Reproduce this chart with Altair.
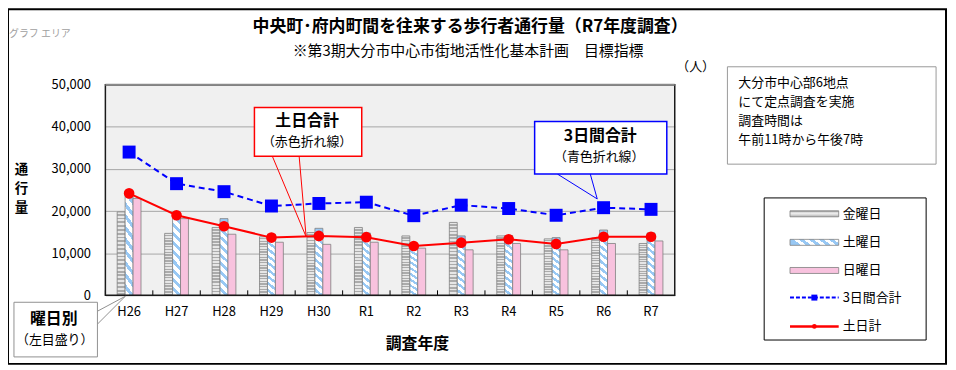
import altair as alt
import pandas as pd

FONT = "Noto Sans CJK JP"

# ---------------- data ----------------
years = ["H26", "H27", "H28", "H29", "H30", "R1", "R2", "R3", "R4", "R5", "R6", "R7"]
days = ["金曜日", "土曜日", "日曜日"]
fri = [19800, 14700, 16100, 13900, 14900, 16100, 14100, 17300, 14100, 13400, 13600, 12300]
sat = [24800, 19500, 18200, 14500, 15900, 14800, 12200, 14100, 14200, 13700, 15500, 14800]
sun = [23000, 18200, 14500, 12600, 12100, 12600, 11200, 10800, 12300, 10800, 12300, 12900]
three_day = [68000, 53000, 49200, 42400, 43600, 44200, 37800, 42800, 41200, 38000, 41600, 40800]
weekend = [48400, 38000, 32800, 27400, 28200, 27600, 23400, 25000, 26600, 24400, 27800, 27800]
legend_labels = ["金曜日", "土曜日", "日曜日", "3日間合計", "土日計"]
y_ticks = [0, 10000, 20000, 30000, 40000, 50000]

title_text = "中央町･府内町間を往来する歩行者通行量（R7年度調査）"
subtitle_text = "※第3期大分市中心市街地活性化基本計画　目標指標"
info_lines = ["大分市中心部6地点", "にて定点調査を実施", "調査時間は", "午前11時から午後7時"]
y_title = "通行量"

bars_df = pd.DataFrame({
    "year": years * 3,
    "day": [d for d in days for _ in years],
    "value": fri + sat + sun,
})
lines_df = pd.DataFrame({"year": years, "three_day": three_day, "weekend": weekend})
years_df = pd.DataFrame({"year": years})
one = pd.DataFrame({"k": [1]})

W, H = 573, 212


def stripes(c1, c2, n, x1, y1, x2, y2, frac=0.5):
    stops = []
    for i in range(n):
        a = round(i / n, 5)
        b = round((i + frac) / n, 5)
        c = round((i + 1) / n, 5)
        stops += [{"offset": a, "color": c1}, {"offset": b, "color": c1},
                  {"offset": b, "color": c2}, {"offset": c, "color": c2}]
    return {"gradient": "linear", "x1": x1, "y1": y1, "x2": x2, "y2": y2, "stops": stops}


gray_fill = stripes("#e6e6e6", "#ababab", 22, 0, 0, 0, 1)
blue_fill = stripes("#98c8f4", "#ffffff", 9, 0.1, 0, 0, 1, frac=0.45)
pink_fill = "#f8c2de"

x_scale = alt.Scale(domain=years, paddingInner=0, paddingOuter=0)
x_axis = alt.Axis(labelAngle=0, ticks=False, tickSize=0, domain=False, grid=False,
                  labelFont=FONT, labelFontSize=13, labelColor="black", labelPadding=10)
x_bar = alt.X("year:N", scale=x_scale, axis=x_axis, title=None)
x_mid = alt.X("year:N", scale=x_scale, axis=x_axis, title=None, bandPosition=0.5)
x_edge = alt.X("year:N", scale=x_scale, axis=x_axis, title=None, bandPosition=0)

y_bar = alt.Y("value:Q", scale=alt.Scale(domain=[0, 50000], nice=False),
              axis=alt.Axis(values=y_ticks, format=",.0f", ticks=False, domain=False, grid=True,
                            gridColor="#a6a6a6", gridWidth=1, labelFont=FONT, labelFontSize=13,
                            labelColor="black", labelPadding=15), title=None)
# two empty slots around the three day bars keep each group narrow and centred
offset_domain = ["_l"] + days + ["_r"]
xoff = alt.XOffset("day:N", scale=alt.Scale(domain=offset_domain, paddingInner=0, paddingOuter=0.49))


def bar_layer(day, fill):
    return alt.Chart(bars_df).transform_filter(alt.datum.day == day).mark_bar(
        fill=fill, stroke="#7f7f7f", strokeWidth=0.8).encode(x=x_bar, xOffset=xoff, y=y_bar)


bars = alt.layer(bar_layer(days[0], gray_fill), bar_layer(days[1], blue_fill), bar_layer(days[2], pink_fill))

y_right = alt.Scale(domain=[0, 100000], nice=False)
base_l = alt.Chart(lines_df)
lines = alt.layer(
    base_l.mark_line(color="#0000ff", strokeWidth=2, strokeDash=[6, 4]).encode(
        x=x_mid, y=alt.Y("three_day:Q", scale=y_right, axis=None)),
    base_l.mark_square(color="#0000ff", size=170, opacity=1).encode(
        x=x_mid, y=alt.Y("three_day:Q", scale=y_right, axis=None)),
    base_l.mark_line(color="#ff0000", strokeWidth=2).encode(
        x=x_mid, y=alt.Y("weekend:Q", scale=y_right, axis=None)),
    base_l.mark_circle(color="#ff0000", size=115, opacity=1).encode(
        x=x_mid, y=alt.Y("weekend:Q", scale=y_right, axis=None)),
)

ticks = alt.Chart(years_df).mark_rule(color="black", strokeWidth=1).encode(
    x=x_edge, y=alt.value(H), y2=alt.value(H - 5))


def txt(text, x, y, size=13, weight="normal", align="center", color="black"):
    return alt.Chart(one).mark_text(text=text, font=FONT, fontSize=size, fontWeight=weight,
                                    align=align, baseline="middle", color=color).encode(
        x=alt.value(x), y=alt.value(y))


def box(x0, y0, x1, y1, stroke, sw=1, fill="white", fop=1):
    return alt.Chart(one).mark_rect(fill=fill, fillOpacity=fop, stroke=stroke, strokeWidth=sw).encode(
        x=alt.value(x0), x2=alt.value(x1), y=alt.value(y0), y2=alt.value(y1))


def seg(x0, y0, x1, y1, color, sw=1, dash=None):
    kw = dict(color=color, strokeWidth=sw)
    if dash:
        kw["strokeDash"] = dash
    return alt.Chart(one).mark_rule(**kw).encode(
        x=alt.value(x0), y=alt.value(y0), x2=alt.value(x1), y2=alt.value(y1))


decor = []
# outer frame
decor.append(box(-98, -76, 846, 281, "black", sw=2, fop=0))
# plot border
decor.append(box(0, 0, W, H, "#1a1a1a", sw=1.5, fop=0))
decor.append(seg(0, 0, W, 0, "#8a8a8a", sw=2))
# titles
decor.append(txt("グラフ エリア", -97, -51, size=10, align="left", color="#a0a0a0"))
decor.append(txt(title_text, 367, -57.5, size=17, weight="bold"))
decor.append(txt(subtitle_text, 365, -34, size=15))
decor.append(txt("（人）", 594, -18, size=13))
for ch, yy in zip(y_title, [85.5, 105, 124.5]):
    decor.append(txt(ch, -84.5, yy, size=13.5, weight="bold"))
decor.append(txt("調査年度", 314, 261, size=16, weight="bold"))

# callout: 土日合計
decor.append(seg(168, 72, 202, 153, "#ff0000", sw=1))
decor.append(seg(195, 72, 202, 153, "#ff0000", sw=1))
decor.append(box(150, 23, 258, 72, "#ff0000", sw=1.5))
decor.append(txt("土日合計", 203, 37, size=16, weight="bold"))
decor.append(txt("（赤色折れ線）", 203, 58, size=13))

# callout: 3日間合計
decor.append(seg(455, 90, 495, 115, "#0000ff", sw=1))
decor.append(seg(488, 90, 495, 115, "#0000ff", sw=1))
decor.append(box(432, 37, 565, 90, "#0000ff", sw=1.5))
decor.append(txt("3日間合計", 498, 52, size=16, weight="bold"))
decor.append(txt("（青色折れ線）", 497, 73, size=13))

# callout: 曜日別
decor.append(seg(-8, 228, 20, 213, "#909090", sw=1))
decor.append(seg(-8, 241, 20, 213, "#909090", sw=1))
decor.append(box(-92, 219, -8, 274, "#909090", sw=1))
decor.append(txt("曜日別", -52, 235.5, size=16, weight="bold"))
decor.append(txt("（左目盛り）", -51, 256.5, size=13))

# info box
decor.append(box(626, -18, 836, 80, "#999999", sw=1))
for t, yy in zip(info_lines, [-1.5, 17.5, 37, 56]):
    decor.append(txt(t, 637, yy, size=13, align="left"))

# legend
decor.append(box(663, 114, 826, 257, "black", sw=1))
rows = [130, 158.7, 187, 214.3, 243.3]
sx0, sx1, lx = 689, 738, 742
gray_sw = {"gradient": "linear", "x1": 0, "y1": 0, "x2": 0, "y2": 1,
           "stops": [{"offset": 0, "color": "#8c8c8c"}, {"offset": 0.35, "color": "#f2f2f2"},
                     {"offset": 0.7, "color": "#d6d6d6"}, {"offset": 1, "color": "#a0a0a0"}]}
blue_sw = stripes("#98c8f4", "#ffffff", 5, 0, 0.15, 1, 0, frac=0.5)
decor.append(box(sx0, rows[0] - 3, sx1, rows[0] + 3, "#808080", sw=0.8, fill=gray_sw))
decor.append(box(sx0, rows[1] - 3, sx1, rows[1] + 3, "#808080", sw=0.8, fill=blue_sw))
decor.append(box(sx0, rows[2] - 3, sx1, rows[2] + 3, "#808080", sw=0.8, fill=pink_fill))
decor.append(seg(sx0, rows[3], sx1, rows[3], "#0000ff", sw=2, dash=[4, 2]))
decor.append(alt.Chart(one).mark_square(color="#0000ff", size=36, opacity=1).encode(
    x=alt.value((sx0 + sx1) / 2), y=alt.value(rows[3])))
decor.append(seg(sx0, rows[4], sx1, rows[4], "#ff0000", sw=2.5))
decor.append(alt.Chart(one).mark_circle(color="#ff0000", size=22, opacity=1).encode(
    x=alt.value((sx0 + sx1) / 2), y=alt.value(rows[4])))
for t, yy in zip(legend_labels, rows):
    decor.append(txt(t, lx, yy, size=13, align="left"))

chart = alt.layer(bars, ticks, lines, *decor).resolve_scale(y="independent").properties(
    width=W, height=H,
    autosize=alt.AutoSizeParams(type="none"),
    padding={"left": 98, "top": 76, "right": 275, "bottom": 72},
).configure(background="white", font=FONT).configure_view(stroke=None, fill="#f0f0f0")

chart.save("out.html", embed_options={"renderer": "svg", "actions": False})
